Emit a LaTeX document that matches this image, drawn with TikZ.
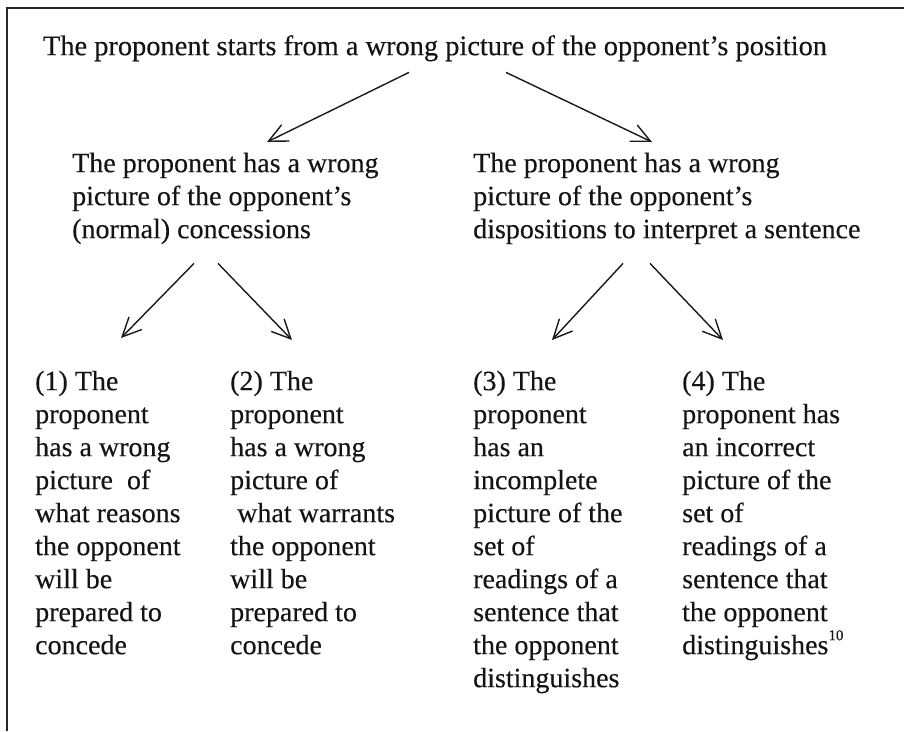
\documentclass[tikz,border=0pt]{standalone}
\usepackage{fontspec}
\setmainfont{Liberation Serif}[FakeBold=0.25]
\usetikzlibrary{arrows.meta}
\newcommand{\supnum}[1]{\raisebox{0.5em}{\fontsize{15}{15}\selectfont #1}}
\begin{document}
\begin{tikzpicture}[x=1pt,y=-1pt,
  txt/.style={anchor=north west, inner sep=0pt, align=left, text=black!92,
              font=\fontsize{28}{33}\selectfont},
  arr/.style={line width=1.4pt, draw=black!90,
              -{Straight Barb[length=19pt,width=18pt,line width=1.4pt]}}]
\useasboundingbox (0,0) rectangle (904,731);
% frame
\draw[line width=1.8pt, black!85] (904,8) -- (7,8) -- (7,731);
% nodes
\node[txt, anchor=north, font=\fontsize{28.4}{33}\selectfont] (top) at (435,31.9)
  {\strut The proponent starts from a wrong picture of the opponent's position\strut};
\node[txt] (midL) at (72,148.9)
  {\strut The proponent has a wrong\\ picture of the opponent's\\ (normal) concessions\strut};
\node[txt] (midR) at (473,148.9)
  {\strut The proponent has a wrong\\ picture of the opponent's\\ dispositions to interpret a sentence\strut};
\node[txt] (c1) at (35,366.9)
  {\strut (1) The\\ proponent\\ has a wrong\\ picture\ \ of\\ what reasons\\ the opponent\\ will be\\ prepared to\\ concede\strut};
\node[txt] (c2) at (230,366.9)
  {\strut (2) The\\ proponent\\ has a wrong\\ picture of\\ \hspace*{0.25em}what warrants\\ the opponent\\ will be\\ prepared to\\ concede\strut};
\node[txt] (c3) at (473,366.9)
  {\strut (3) The\\ proponent\\ has an\\ incomplete\\ picture of the\\ set of\\ readings of a\\ sentence that\\ the opponent\\ distinguishes\strut};
\node[txt] (c4) at (682,366.9)
  {\strut (4) The\\ proponent has\\ an incorrect\\ picture of the\\ set of\\ readings of a\\ sentence that\\ the opponent\\ distinguishes\supnum{10}\strut};
% connectors
\draw[arr] ([shift={(-26pt,-7.1pt)}]top.south) -- ([shift={(195pt,6.9pt)}]midL.north west);
\draw[arr] ([shift={(71pt,-7.1pt)}]top.south) -- ([shift={(179pt,6.9pt)}]midR.north west);
\draw[arr] ([shift={(122pt,-15.1pt)}]midL.south west) -- ([shift={(86pt,28.9pt)}]c1.north west);
\draw[arr] ([shift={(146pt,-15.1pt)}]midL.south west) -- ([shift={(62pt,26.9pt)}]c2.north west);
\draw[arr] ([shift={(150pt,-15.1pt)}]midR.south west) -- ([shift={(79pt,26.9pt)}]c3.north west);
\draw[arr] ([shift={(177pt,-15.1pt)}]midR.south west) -- ([shift={(41pt,26.9pt)}]c4.north west);
\end{tikzpicture}
\end{document}
